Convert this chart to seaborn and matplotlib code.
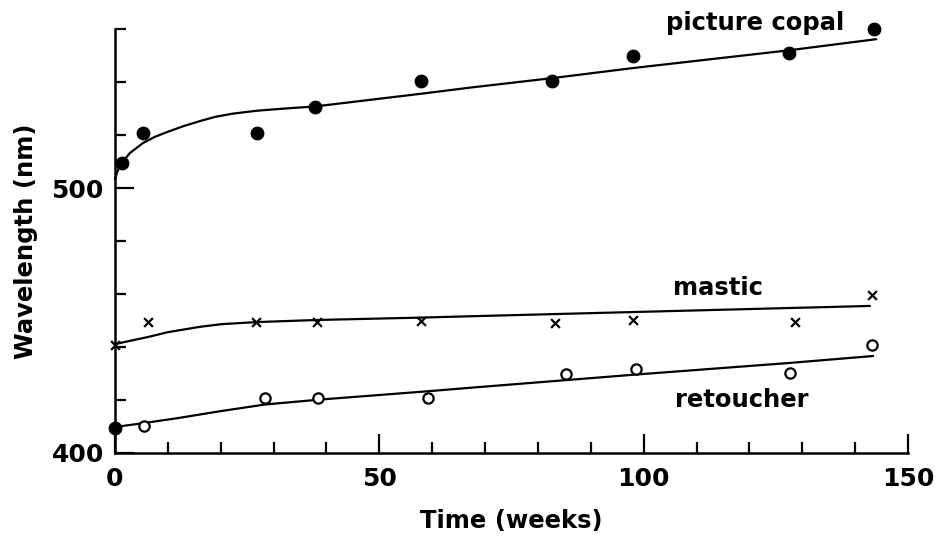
import numpy as np
import matplotlib
matplotlib.use("Agg")
import matplotlib.pyplot as plt
import seaborn as sns

# measured points (time in weeks, wavelength in nm)
copal_t = [1.3, 5.3, 26.9, 37.8, 57.9, 82.7, 98.0, 127.5, 143.6]
copal_nm = [509.4, 520.8, 520.8, 530.6, 540.4, 540.4, 549.8, 551.0, 560.0]

mastic_t = [0, 6.3, 26.7, 38.2, 57.9, 83.2, 98.0, 128.6, 143.2]
mastic_nm = [440.8, 449.4, 449.4, 449.4, 449.8, 449.0, 450.2, 449.4, 459.6]

retouch_t = [5.5, 28.4, 38.4, 59.2, 85.3, 98.5, 127.7, 143.2]
retouch_nm = [410.2, 420.8, 420.8, 420.8, 429.8, 431.7, 430.2, 440.8]
retouch_start_t = [0]
retouch_start_nm = [409.4]

# hand-drawn fit curves
copal_fit_t = [0, 0.6, 1.3, 2.8, 5.3, 7.5, 9.8, 13.0, 16.1, 19.0, 22.3, 26.9,
               32.0, 37.8, 57.9, 67.1, 82.7, 98.0, 127.5, 144.0]
copal_fit_nm = [503.5, 507.0, 509.5, 513.2, 517.0, 519.3, 521.1, 523.4, 525.3,
                526.9, 528.1, 529.2, 530.0, 530.8, 535.6, 537.9, 541.5, 545.3,
                552.0, 556.2]

mastic_fit_t = [0, 3.0, 6.3, 10.0, 16.0, 20.0, 26.7, 38.2, 57.9, 67.1, 98.0, 142.8]
mastic_fit_nm = [441.1, 442.4, 443.8, 445.6, 447.6, 448.6, 449.4, 450.2, 451.1,
                 451.6, 453.2, 455.5]

retouch_fit_t = [0, 5.5, 12.0, 20.0, 28.4, 38.4, 59.2, 67.1, 85.3, 98.5, 127.7, 143.4]
retouch_fit_nm = [409.8, 411.3, 413.2, 415.8, 418.3, 420.1, 423.3, 424.6, 427.5,
                  429.6, 434.0, 436.6]

sns.set_style("ticks")
plt.rcParams["font.family"] = ["DejaVu Sans"]
plt.rcParams["font.weight"] = "bold"
plt.rcParams["text.color"] = "black"
plt.rcParams["axes.labelcolor"] = "black"
plt.rcParams["xtick.color"] = "black"
plt.rcParams["ytick.color"] = "black"

fig = plt.figure(figsize=(9.38, 5.39), dpi=100)
ax = fig.add_axes([0.1226, 0.1596, 0.968 - 0.1226, 0.946 - 0.1596])

for ft, fy in [(copal_fit_t, copal_fit_nm), (mastic_fit_t, mastic_fit_nm),
               (retouch_fit_t, retouch_fit_nm)]:
    sns.lineplot(x=ft, y=fy, ax=ax, color="black", lw=1.6, sort=False,
                 estimator=None, clip_on=False)

sns.scatterplot(x=copal_t, y=copal_nm, ax=ax, color="black", s=85,
                marker="o", edgecolor="black", clip_on=False, zorder=5)
sns.scatterplot(x=retouch_start_t, y=retouch_start_nm, ax=ax, color="black", s=85,
                marker="o", edgecolor="black", clip_on=False, zorder=5)
ax.scatter(retouch_t, retouch_nm, s=55, facecolor="white", edgecolor="black",
           linewidth=1.6, clip_on=False, zorder=5)
ax.scatter(mastic_t, mastic_nm, s=40, marker="x", color="black",
           linewidth=1.6, clip_on=False, zorder=5)

ax.set_xlim(0, 150)
ax.set_ylim(400, 560)
ax.set_xticks([0, 50, 100, 150])
ax.set_xticks(np.arange(0, 151, 10), minor=True)
ax.set_yticks([400, 500])
ax.set_yticks(np.arange(400, 561, 20), minor=True)
ax.tick_params(axis="both", which="major", direction="in", length=14, width=1.6,
               labelsize=18, color="black", labelcolor="black")
ax.tick_params(axis="both", which="minor", direction="in", length=8, width=1.6,
               color="black")
ax.tick_params(axis="x", which="major", pad=10)
ax.tick_params(axis="y", which="major", pad=8)
for lab in ax.get_xticklabels() + ax.get_yticklabels():
    lab.set_fontweight("bold")

sns.despine(ax=ax)
for side in ["left", "bottom"]:
    ax.spines[side].set_linewidth(1.8)
    ax.spines[side].set_color("black")

ax.set_xlabel("Time (weeks)", fontsize=17.5, fontweight="bold", labelpad=13)
ax.set_ylabel("Wavelength (nm)", fontsize=17.5, fontweight="bold", labelpad=10)

ax.text(121, 562.3, "picture copal", fontsize=17.5, fontweight="bold",
        ha="center", va="center")
ax.text(114, 462.3, "mastic", fontsize=17.5, fontweight="bold",
        ha="center", va="center")
ax.text(118.6, 420, "retoucher", fontsize=17.5, fontweight="bold",
        ha="center", va="center")

fig.savefig("out.png", dpi=100, facecolor="white")
